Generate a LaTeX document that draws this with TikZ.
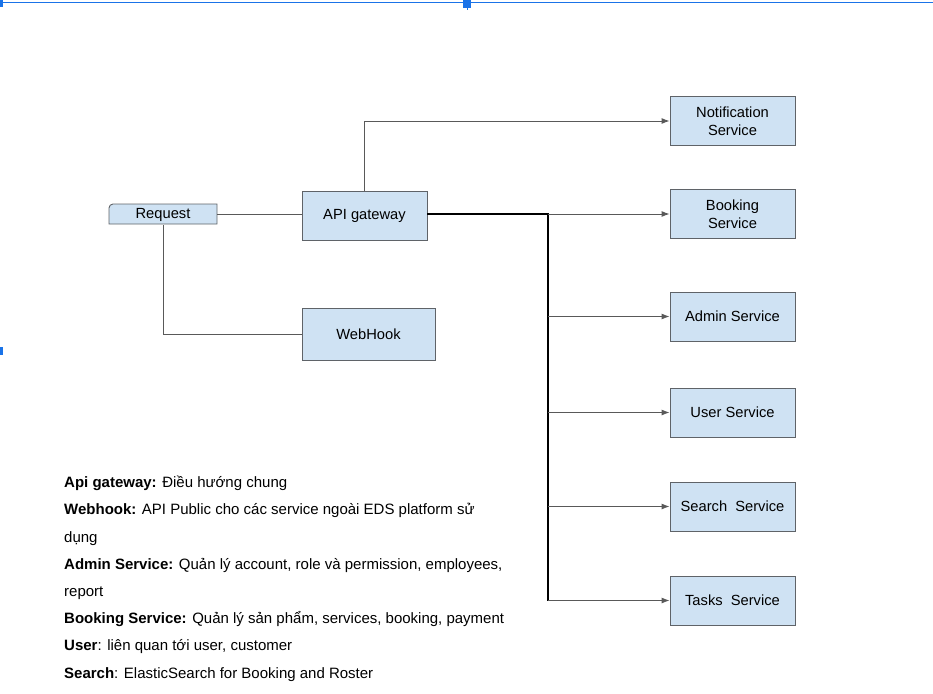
\documentclass[tikz,border=0pt]{standalone}
\usepackage{fontspec}
\setmainfont{Liberation Sans}
\usetikzlibrary{arrows.meta}

\definecolor{boxfill}{HTML}{CFE2F3}
\definecolor{boxline}{HTML}{5F6368}
\definecolor{linegray}{HTML}{595959}
\definecolor{selblue}{HTML}{1A73E8}

\tikzset{
  svc/.style={draw=boxline, fill=boxfill, line width=0.9pt, minimum width=125pt,
    minimum height=49pt, inner sep=0pt, align=center, font=\fontsize{14.7}{18}\selectfont},
  link/.style={draw=linegray, line width=0.9pt},
  trunk/.style={draw=black, line width=1.3pt},
  tip/.style={-{Latex[length=8pt,width=6pt]}},
  legend/.style={inner sep=0pt, font=\fontsize{15}{18}\selectfont}
}

\begin{document}
\begin{tikzpicture}[x=1pt, y=-1pt]
\useasboundingbox (0,0) rectangle (933,693);

% selection frame
\draw[selblue, line width=1pt] (0,3) -- (933,3);
\fill[selblue] (0,0) rectangle (3,7);
\fill[selblue] (463,0) rectangle (471,8);
\draw[selblue] (467,8) -- (467,10);
\fill[selblue] (0,347) rectangle (3,355);

% request tab
\path[fill=boxfill, draw=boxline, line width=0.9pt] (109,224) -- (109,208)
  arc[start angle=180, end angle=270, radius=4] -- (217,204) -- (217,224) -- cycle;
\node[inner sep=0pt, minimum width=108pt, minimum height=20pt,
  font=\fontsize{14.7}{18}\selectfont] (request) at (163,215) {Request};

\node[svc] (api) at (364.5,215.5) {API gateway};
\node[svc, minimum width=133pt, minimum height=52pt] (webhook) at (368.5,334.5) {WebHook};

\node[svc] (notif) at (732.5,121) {Notification\\Service};
\node[svc] (booking) at (732.5,214) {Booking\\Service};
\node[svc] (admin) at (732.5,316.5) {Admin Service};
\node[svc] (user) at (732.5,412.5) {User Service};
\node[svc] (search) at (732.5,506.5) {Search\ \ Service};
\node[svc] (tasks) at (732.5,600.5) {Tasks\ \ Service};

\coordinate (hub) at (548,214);

\draw[link] (request.east |- hub) -- (hub -| api.west);
\draw[link] (request.south) |- (webhook.west);
\draw[link, tip] (api.north) |- (notif.west);
\draw[trunk] (api.east |- hub) -- (hub) -- (hub |- tasks.west);
\draw[link, tip] (hub) -- (booking.west);
\foreach \s in {admin,user,search,tasks} {\draw[link, tip] (hub |- \s.west) -- (\s.west);}

% legend
\foreach \y/\txt [count=\i] in {
  487/{\textbf{Api gateway:} Điều hướng chung},
  514/{\textbf{Webhook:} API Public cho các service ngoài EDS platform sử},
  542/{dụng},
  569/{\textbf{Admin Service:} Quản lý account, role và permission, employees,},
  596/{report},
  623/{\textbf{Booking Service:} Quản lý sản phẩm, services, booking, payment},
  650/{\textbf{User}: liên quan tới user, customer},
  678/{\textbf{Search}: ElasticSearch for Booking and Roster}}
  {\node[legend, anchor=base west] (leg\i) at (64,\y) {\txt};}

\end{tikzpicture}
\end{document}
